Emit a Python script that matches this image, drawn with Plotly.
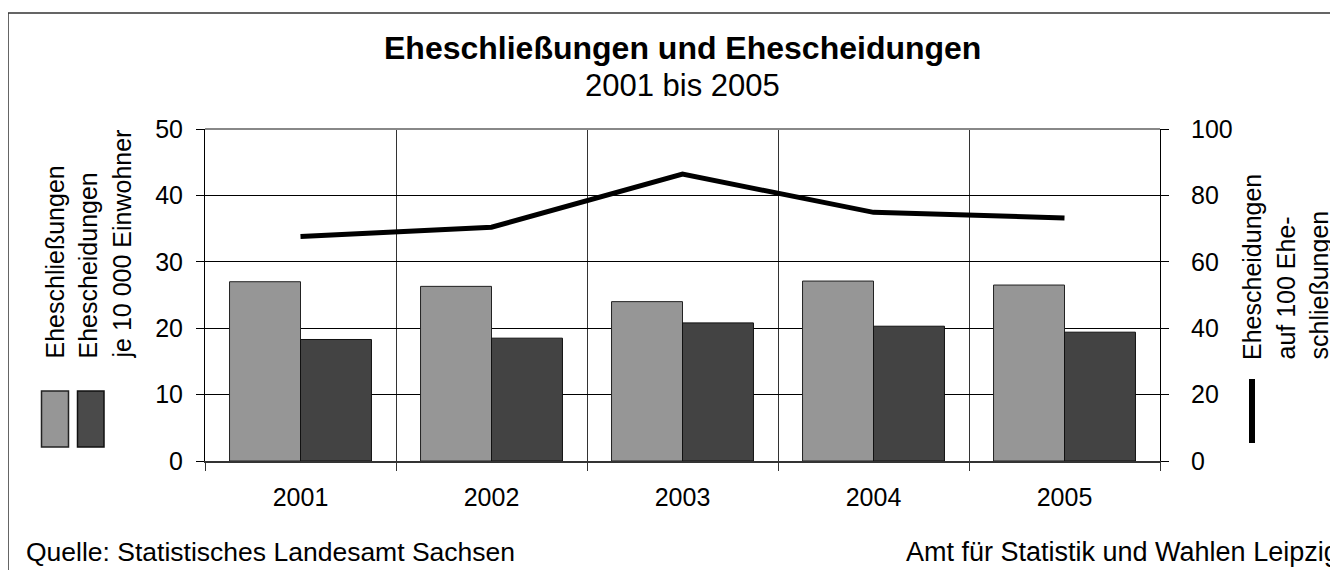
import plotly.graph_objects as go

years = ["2001", "2002", "2003", "2004", "2005"]
marriages = [27.0, 26.3, 24.0, 27.1, 26.5]
divorces = [18.3, 18.5, 20.8, 20.3, 19.4]
ratio = [67.6, 70.4, 86.4, 74.9, 73.2]

W, H = 1338, 570
OFF = 8  # page body margin of the browser
L, R, T, B = 205 - OFF, 1160 - OFF, 129 - OFF, 461 - OFF
FONT = "Liberation Sans, Arial, sans-serif"


def xp(px):
    # px: reference screen x
    return (px - OFF - L) / (R - L)


def yp(py):
    return (B - (py - OFF)) / (B - T)


fig = go.Figure()
fig.add_trace(go.Bar(x=years, y=marriages, name="Eheschließungen",
                     marker=dict(color="#969696", line=dict(color="#222", width=1))))
fig.add_trace(go.Bar(x=years, y=divorces, name="Ehescheidungen",
                     marker=dict(color="#434343", line=dict(color="#111", width=1))))
fig.add_trace(go.Scatter(x=years, y=ratio, yaxis="y2", mode="lines",
                         line=dict(color="black", width=5),
                         name="Ehescheidungen auf 100 Eheschließungen"))

shapes = [
    dict(type="rect", xref="paper", yref="paper", x0=xp(8), x1=xp(1360),
         y0=yp(600), y1=yp(13), line=dict(color="#333", width=1.5), layer="below"),
    dict(type="line", xref="paper", yref="paper", x0=0, x1=1, y0=1, y1=1,
         line=dict(color="#888", width=2)),
    dict(type="rect", xref="paper", yref="paper", x0=xp(41.5), x1=xp(68.5),
         y0=yp(447), y1=yp(391), fillcolor="#969696", line=dict(color="#222", width=1.5)),
    dict(type="rect", xref="paper", yref="paper", x0=xp(77.5), x1=xp(104),
         y0=yp(447), y1=yp(391), fillcolor="#4a4a4a", line=dict(color="#111", width=1.5)),
    dict(type="line", xref="paper", yref="paper", x0=xp(1252), x1=xp(1252),
         y0=yp(443), y1=yp(379), line=dict(color="black", width=6)),
]

annotations = [
    dict(text="<b>Eheschließungen und Ehescheidungen</b>", x=0.5, y=yp(48),
         xref="paper", yref="paper", showarrow=False, xanchor="center", yanchor="middle",
         font=dict(size=32, color="black", family=FONT)),
    dict(text="2001 bis 2005", x=0.5, y=yp(86), xref="paper", yref="paper",
         showarrow=False, xanchor="center", yanchor="middle",
         font=dict(size=31, color="black", family=FONT)),
    dict(text="Quelle: Statistisches Landesamt Sachsen", x=xp(24), y=yp(552),
         xref="paper", yref="paper", showarrow=False, xanchor="left", yanchor="middle",
         font=dict(size=26.5, color="black", family=FONT)),
    dict(text="Amt für Statistik und Wahlen Leipzig", x=xp(904), y=yp(552),
         xref="paper", yref="paper", showarrow=False, xanchor="left", yanchor="middle",
         font=dict(size=27, color="black", family=FONT)),
]

left_title = ["Eheschließungen", "Ehescheidungen", "je 10 000 Einwohner"]
left_x = [54, 87.5, 121]
for t, x in zip(left_title, left_x):
    annotations.append(dict(text=t, x=xp(x), y=yp(361), xref="paper", yref="paper",
                            showarrow=False, textangle=-90, xanchor="center", yanchor="bottom",
                            font=dict(size=25, color="black", family=FONT)))

right_title = ["Ehescheidungen", "auf 100 Ehe-", "schließungen"]
right_x = [1252, 1285, 1318]
for t, x in zip(right_title, right_x):
    annotations.append(dict(text=t, x=xp(x), y=yp(362), xref="paper", yref="paper",
                            showarrow=False, textangle=-90, xanchor="center", yanchor="bottom",
                            font=dict(size=25, color="black", family=FONT)))

fig.update_layout(
    width=W, height=H,
    margin=dict(l=L, r=W - R, t=T, b=H - B, pad=0),
    paper_bgcolor="white", plot_bgcolor="white",
    showlegend=False,
    barmode="group", bargap=0.257, bargroupgap=0,
    font=dict(family=FONT, size=25, color="black"),
    xaxis=dict(type="category", tickson="boundaries", showgrid=True, gridcolor="#333",
               gridwidth=1, ticks="outside", ticklen=8, tickcolor="#333", tickwidth=1,
               showline=True, linecolor="#333", linewidth=2,
               tickfont=dict(size=25), ticklabelstandoff=13),
    yaxis=dict(range=[0, 50], dtick=10, showgrid=True, gridcolor="black", gridwidth=1,
               zeroline=False, showline=True, linecolor="black", linewidth=1,
               ticks="outside", ticklen=8, tickcolor="black",
               tickfont=dict(size=25), ticklabelstandoff=8),
    yaxis2=dict(range=[0, 100], dtick=20, overlaying="y", side="right", showgrid=False,
                zeroline=False, showline=True, linecolor="black", linewidth=1,
                ticks="outside", ticklen=8, tickcolor="black",
                tickfont=dict(size=25), ticklabelstandoff=17),
    shapes=shapes,
    annotations=annotations,
)

fig.write_html("out.html")
